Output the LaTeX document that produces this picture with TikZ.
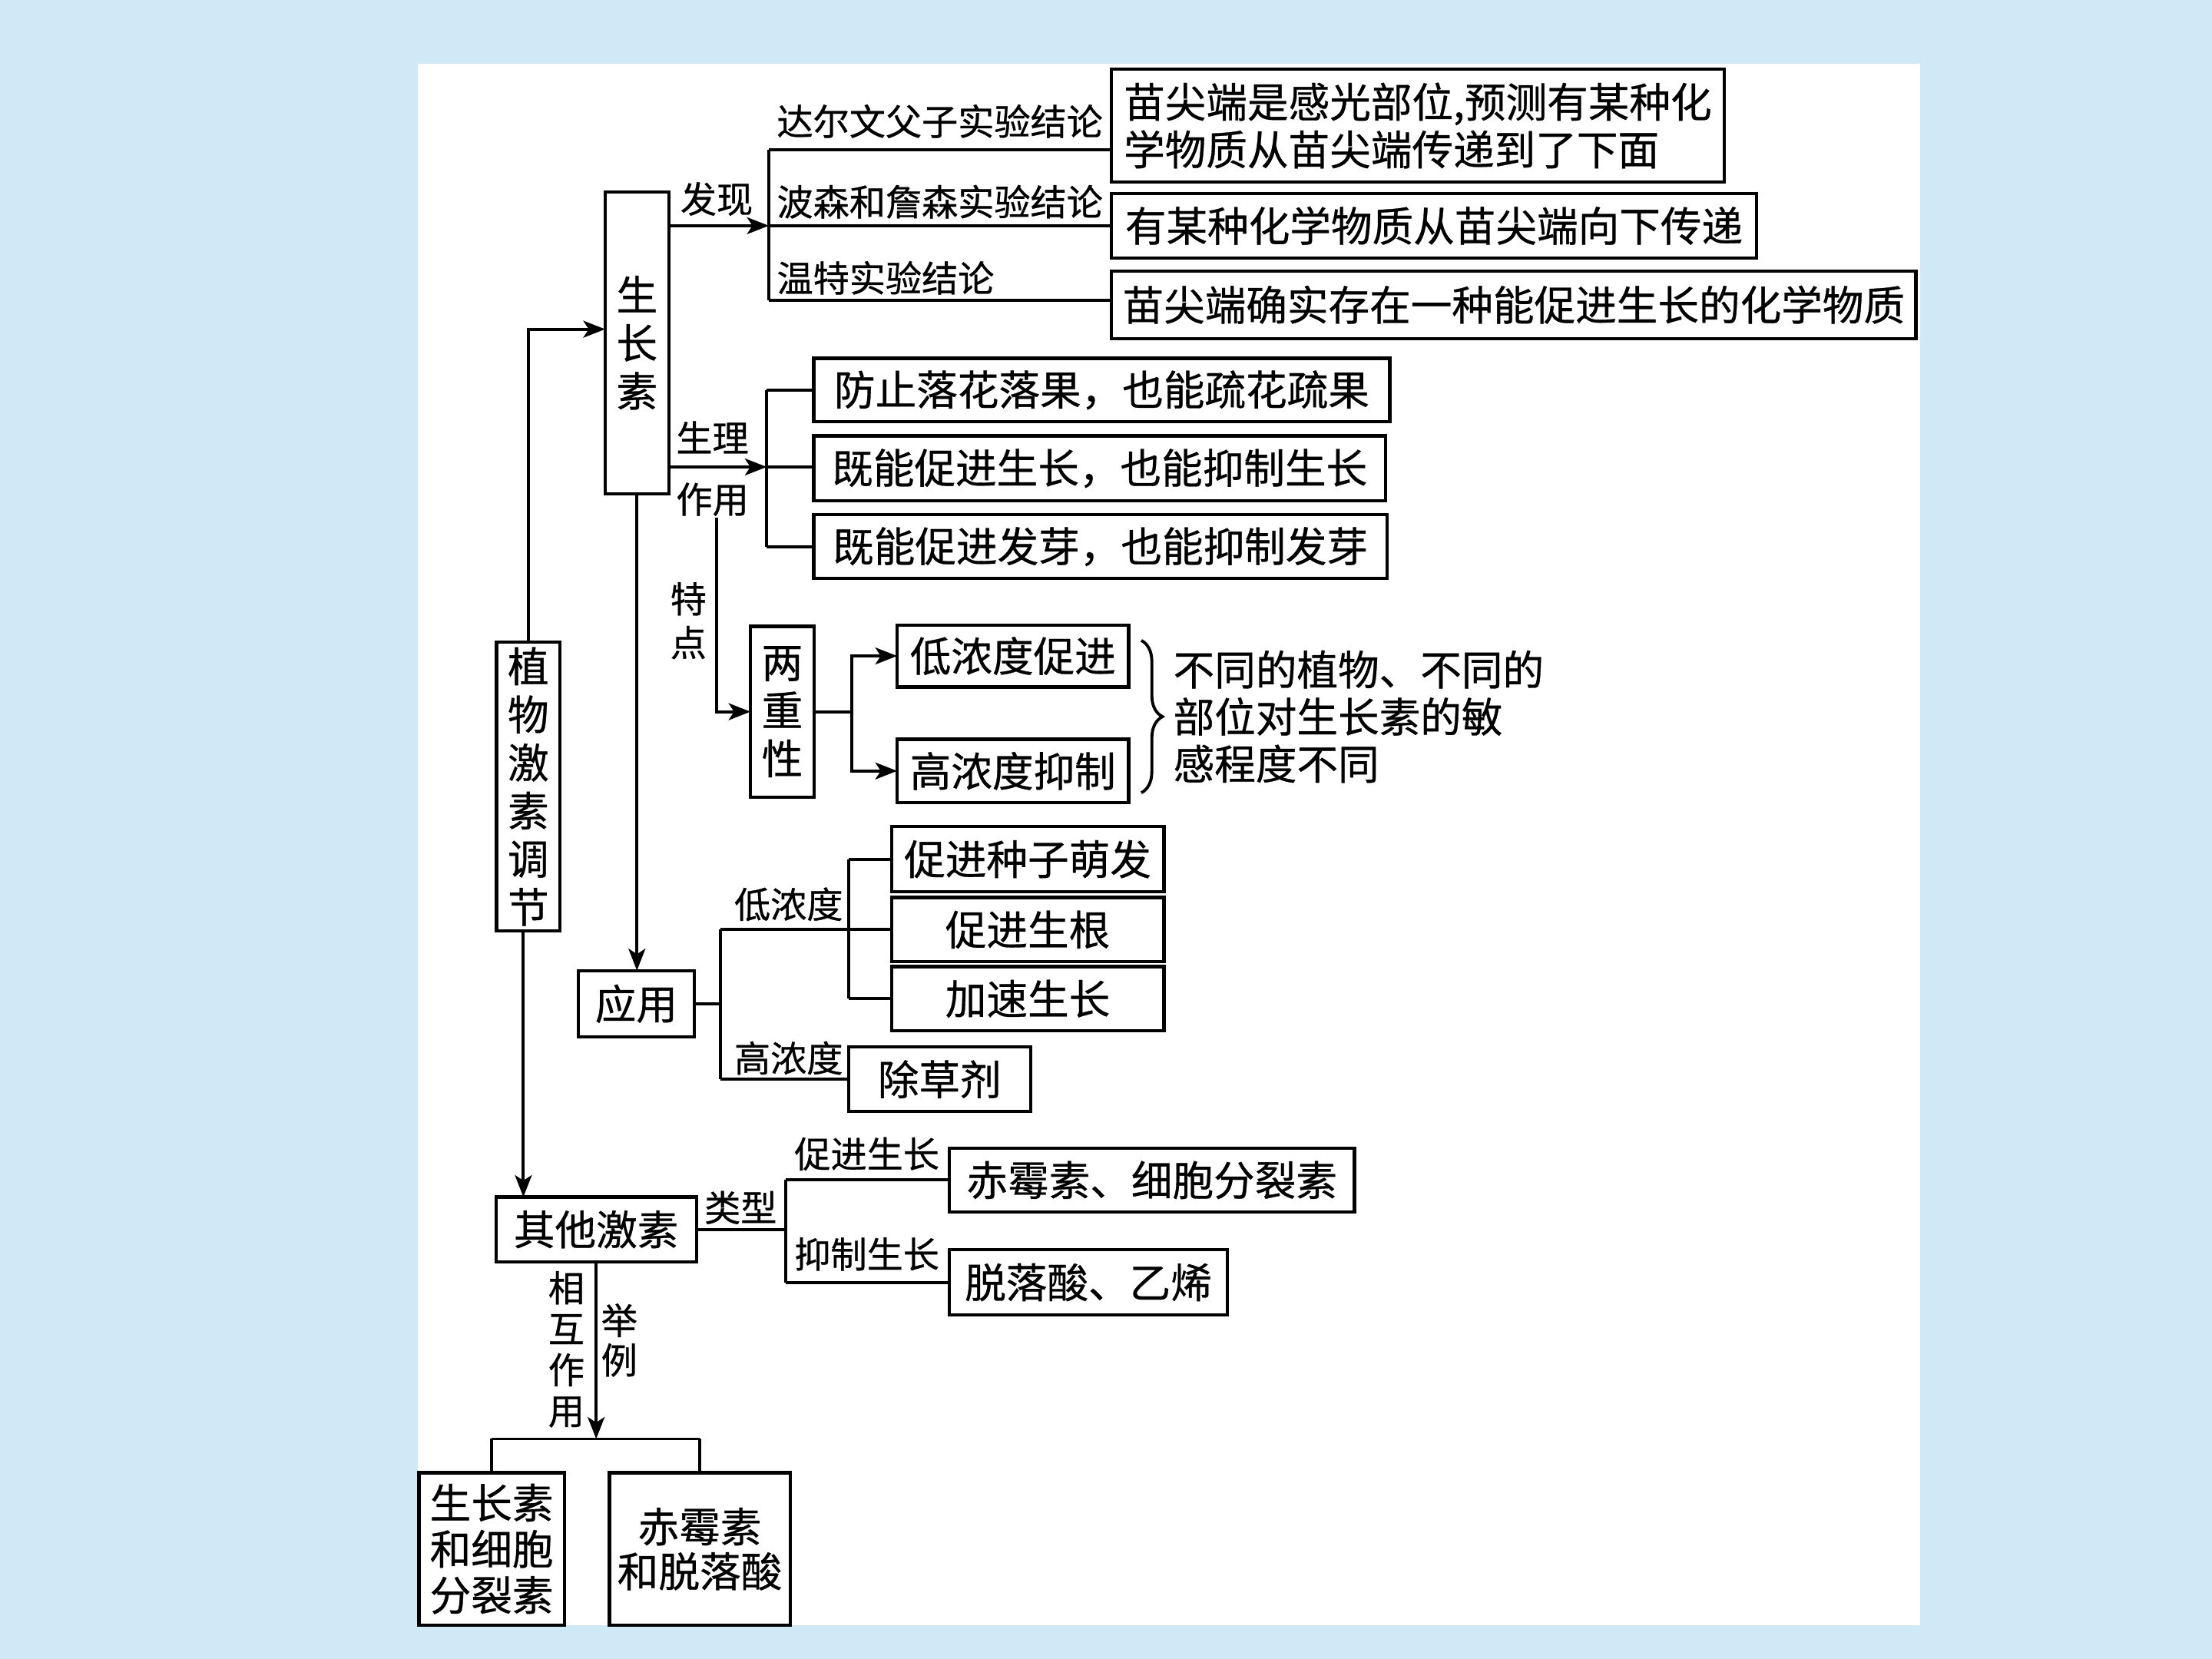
\documentclass[tikz,border=0pt]{standalone}
\usepackage{fontspec}
\setmainfont{Noto Sans CJK SC}[FakeBold=0.6]
\usetikzlibrary{arrows.meta,calc,decorations.pathreplacing}
\newcommand\mybx{\fontsize{8.3pt}{9.6pt}\selectfont}
\newcommand\mylb{\fontsize{7.3pt}{8.8pt}\selectfont}
\definecolor{bgblue}{HTML}{CFEAF6}
\tikzset{
  box/.style={draw, line width=0.65pt, inner sep=0pt, outer sep=0pt, font=\mybx, align=center},
  vbox/.style={box, font=\fontsize{8.3pt}{9.7pt}\selectfont},
  lbl/.style={inner sep=0pt, font=\mylb},
  conn/.style={line width=0.6pt},
  arr/.style={conn, -{Stealth[length=4.4pt, width=3.4pt, inset=1.1pt]}}
}
\begin{document}
\begin{tikzpicture}[x=0.01cm, y=-0.01cm]
\useasboundingbox (0,0) rectangle (1568,1176);
\fill[bgblue] (0,0) rectangle (1568,1176);
\fill[white] (296,45) rectangle (1361,1152);

% boxes
\node[box, minimum width=4.34cm, minimum height=0.80cm, align=left] (b1) at (1005,89) {苗尖端是感光部位,预测有某种化\\学物质从苗尖端传递到了下面};
\node[box, minimum width=4.57cm, minimum height=0.46cm] (b2) at (1016.5,160) {有某种化学物质从苗尖端向下传递};
\node[box, minimum width=5.70cm, minimum height=0.48cm] (b3) at (1073,216) {苗尖端确实存在一种能促进生长的化学物质};
\node[vbox, minimum width=0.45cm, minimum height=2.14cm] (szs) at (451.5,243) {生\\长\\素};
\node[box, minimum width=4.08cm, minimum height=0.45cm] (p1) at (781,276.5) {防止落花落果，也能疏花疏果};
\node[box, minimum width=4.05cm, minimum height=0.46cm] (p2) at (779.5,332) {既能促进生长，也能抑制生长};
\node[box, minimum width=4.06cm, minimum height=0.45cm] (p3) at (780,387.5) {既能促进发芽，也能抑制发芽};
\node[vbox, minimum width=0.45cm, minimum height=2.05cm] (zw) at (374.5,557.5) {植\\物\\激\\素\\调\\节};
\node[vbox, minimum width=0.45cm, minimum height=1.21cm] (lz) at (554.5,504.5) {两\\重\\性};
\node[box, minimum width=1.64cm, minimum height=0.44cm] (d1) at (718,465) {低浓度促进};
\node[box, minimum width=1.64cm, minimum height=0.45cm] (d2) at (718,546.5) {高浓度抑制};
\node[box, minimum width=0.82cm, minimum height=0.47cm] (yy) at (451,711.5) {应用};
\node[box, minimum width=1.93cm, minimum height=0.46cm] (a1) at (728.5,609) {促进种子萌发};
\node[box, minimum width=1.93cm, minimum height=0.455cm] (a2) at (728.5,659) {促进生根};
\node[box, minimum width=1.93cm, minimum height=0.455cm] (a3) at (728.5,708) {加速生长};
\node[box, minimum width=1.29cm, minimum height=0.46cm] (a4) at (666,765) {除草剂};
\node[box, minimum width=1.42cm, minimum height=0.46cm] (qt) at (422.6,871.5) {其他激素};
\node[box, minimum width=2.87cm, minimum height=0.45cm] (c1) at (816.5,836.5) {赤霉素、细胞分裂素};
\node[box, minimum width=1.97cm, minimum height=0.46cm] (c2) at (771.5,909) {脱落酸、乙烯};
\node[box, minimum width=1.03cm, minimum height=1.08cm, font=\fontsize{8.3pt}{9.3pt}\selectfont] (e1) at (348.5,1098) {生长素\\和细胞\\分裂素};
\node[box, minimum width=1.28cm, minimum height=1.08cm, font=\fontsize{8.3pt}{9.0pt}\selectfont] (e2) at (496,1098) {赤霉素\\和脱落酸};

% labels
\node[lbl, anchor=west] (l1) at (550,86) {达尔文父子实验结论};
\node[lbl, anchor=west] (l2) at (550,143) {波森和詹森实验结论};
\node[lbl, anchor=west] (l3) at (550,197) {温特实验结论};
\node[lbl] (l4) at (508,141) {发现};
\node[lbl] (l5) at (505,310) {生理};
\node[lbl] (l6) at (505,354) {作用};
\node[lbl, align=center, font=\fontsize{7.3pt}{8.8pt}\selectfont] (l7) at (488,440) {特\\点};
\node[lbl, anchor=west, align=left, font=\fontsize{8.3pt}{9.5pt}\selectfont] (l8) at (831,508) {不同的植物、不同的\\部位对生长素的敏\\感程度不同};
\node[lbl] (l9) at (559,641) {低浓度};
\node[lbl] (l10) at (559,750) {高浓度};
\node[lbl] (l11) at (525,856) {类型};
\node[lbl] (l12) at (614.5,818) {促进生长};
\node[lbl] (l13) at (614.5,889) {抑制生长};
\node[lbl, align=center, font=\fontsize{7.3pt}{8.25pt}\selectfont] (l14) at (401.5,956.5) {相\\互\\作\\用};
\node[lbl, align=center, font=\fontsize{7.3pt}{8.0pt}\selectfont] (l15) at (439,950) {举\\例};

% connectors
\draw[arr] (zw.north) |- ($(szs.north west)!0.455!(szs.south west)$);
\draw[arr] ([xshift=-0.035cm]zw.south) -- ([xshift=-0.035cm]zw.south |- qt.north);

\coordinate (fx) at (545,160);
\coordinate (ft) at (545,106);
\coordinate (fb) at (545,213);
\draw[arr] (szs.east |- fx) -- (fx);
\draw[conn] (ft) -- (fb);
\draw[conn] (ft) -- (ft -| b1.west);
\draw[conn] (fx) -- (fx -| b2.west);
\draw[conn] (fb) -- (fb -| b3.west);

\coordinate (sx) at (543.5,331);
\draw[arr] (szs.east |- sx) -- (sx);
\draw[conn] (sx |- p1.west) -- (sx |- p3.west);
\draw[conn] (sx |- p1.west) -- (p1.west);
\draw[conn] (sx) -- (sx -| p2.west);
\draw[conn] (sx |- p3.west) -- (p3.west);

\coordinate (tp) at (508,367);
\draw[arr] (tp) |- (lz.west);

\coordinate (lzh) at (604,504.5);
\draw[conn] (lz.east) -- (lzh);
\draw[arr] (lzh) |- (d1.west);
\draw[arr] (lzh) |- (d2.west);

\draw[arr] (szs.south) -- (szs.south |- yy.north);

\coordinate (yh) at (510.6,711.5);
\draw[conn] (yy.east) -- (yh);
\draw[conn] (yh |- a2.west) -- (yh |- a4.west);
\draw[conn] (yh |- a2.west) -- (a2.west);
\draw[conn] (yh |- a4.west) -- (a4.west);
\draw[conn] (a1.west -| a4.west) -- (a3.west -| a4.west);
\draw[conn] (a1.west -| a4.west) -- (a1.west);
\draw[conn] (a3.west -| a4.west) -- (a3.west);

\coordinate (qh) at (557,871.5);
\draw[conn] (qt.east) -- (qh);
\draw[conn] (qh |- c1.west) -- (qh |- c2.west);
\draw[conn] (qh |- c1.west) -- (c1.west);
\draw[conn] (qh |- c2.west) -- (c2.west);

\coordinate (qb) at (422.6,1020);
\draw[arr] (qt.south) -- (qb);
\draw[conn] (e1.north |- qb) -- (e2.north |- qb);
\draw[conn] (e1.north |- qb) -- (e1.north);
\draw[conn] (e2.north |- qb) -- (e2.north);

% brace
\coordinate (br1) at (809,454);
\coordinate (br2) at (809,562);
\draw[conn, decorate, decoration={brace, amplitude=0.15cm}] (br1) -- (br2);
\end{tikzpicture}
\end{document}
